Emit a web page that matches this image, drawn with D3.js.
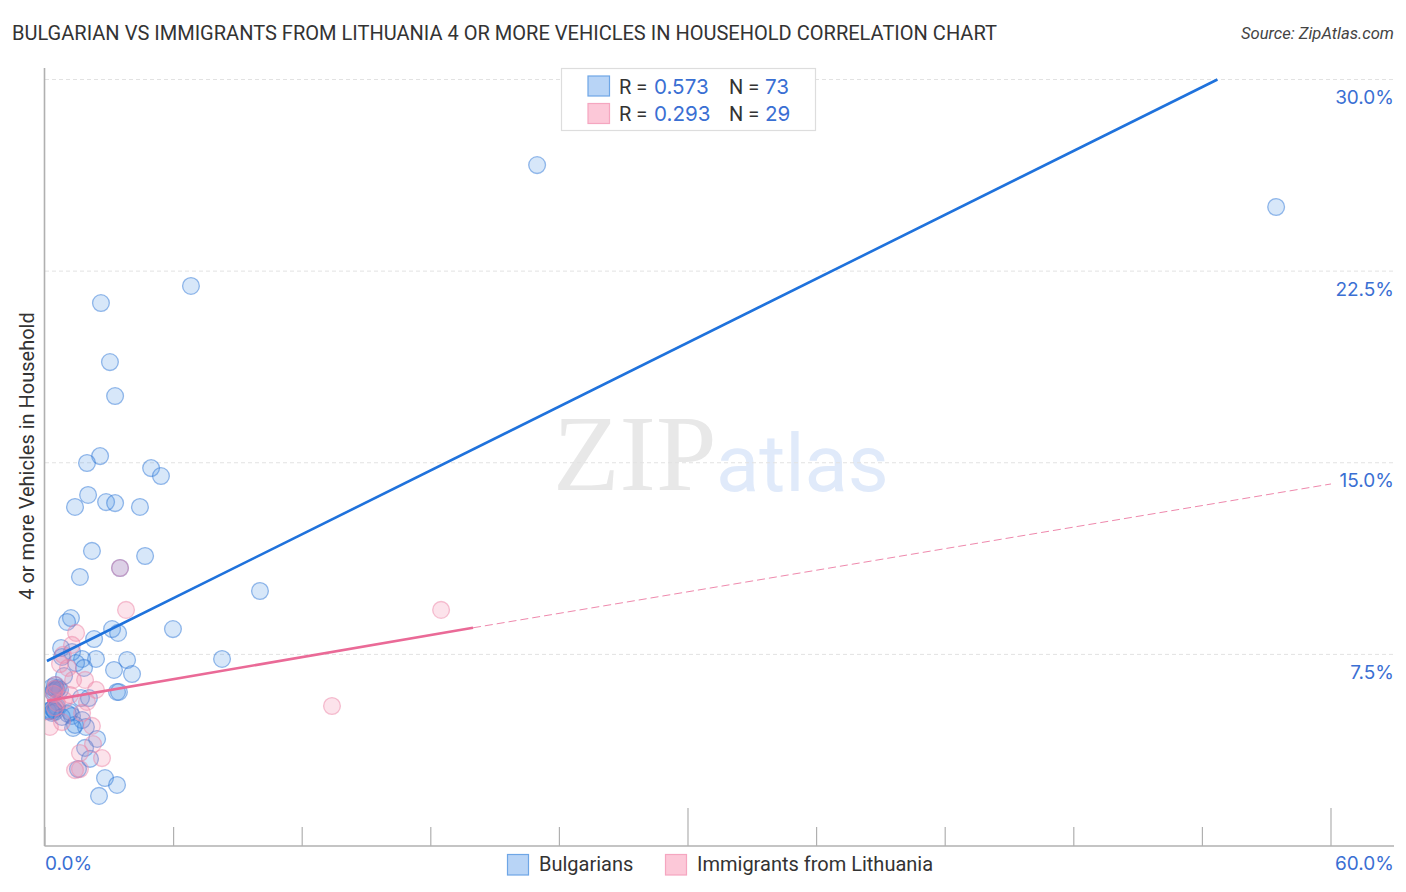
<!DOCTYPE html>
<html><head><meta charset="utf-8">
<script src="https://cdn.jsdelivr.net/npm/d3@7"></script>
<style>html,body{margin:0;padding:0;background:#fff}svg{display:block}text{font-family:Roboto,sans-serif}text.num{font-family:Inter,Roboto,sans-serif}</style>
</head><body><svg id="c" width="1406" height="892"></svg>
<script>
const titleText="BULGARIAN VS IMMIGRANTS FROM LITHUANIA 4 OR MORE VEHICLES IN HOUSEHOLD CORRELATION CHART";
const sourceText="Source: ZipAtlas.com";
const yAxisTitle="4 or more Vehicles in Household";
const seriesNames=["Bulgarians","Immigrants from Lithuania"];
const rValues=["0.573","0.293"];
const nValues=["73","29"];
const yTicks=[7.5,15,22.5,30];
const xTicks=[0,6,12,18,24,30,36,42,48,54,60];
const xMajorTicks=[30,60];
const xEndLabels=[0,60];
const bulgariansX=[22.96,57.44,6.81,2.61,3.03,3.27,2.57,1.96,4.95,5.41,2.01,1.40,2.85,3.27,4.43,2.19,4.67,1.63,3.50,10.03,1.21,1.03,3.13,3.41,2.29,5.97,.75,8.26,2.38,3.83,1.73,1.26,.79,1.45,1.82,3.22,4.06,3.36,3.45,1.68,2.05,2.43,1.87,2.10,1.54,2.80,3.36,2.52,.89,.47,.33,.61,.70,.42,.54,.37,.47,.56,.37,.14,.33,.51,.42,.28,.47,.79,1.17,1.26,1.07,1.73,1.91,1.31,1.40];
const bulgariansY=[26.65,25.01,21.92,21.25,18.94,17.61,15.26,14.99,14.79,14.48,13.74,13.27,13.46,13.42,13.27,11.55,11.35,10.53,10.88,9.98,8.92,8.77,8.49,8.34,8.10,8.49,7.75,7.32,7.32,7.28,7.32,7.59,7.40,7.16,6.97,6.89,6.73,6.03,6.03,5.79,5.79,4.19,3.84,3.41,3.01,2.66,2.39,1.96,6.65,6.30,6.22,6.18,6.11,6.07,6.12,6.02,6.15,5.44,5.38,5.28,5.21,5.40,5.32,5.30,5.25,5.05,5.24,5.09,5.17,4.93,4.66,4.62,4.74];
const lithuaniaX=[3.50,3.78,18.48,13.39,1.45,1.26,.84,.70,1.07,1.87,1.31,2.38,1.96,2.19,1.73,2.24,1.63,2.66,1.40,1.63,.23,.89,.47,.42,.56,.47,.79,1.17,.51];
const lithuaniaY=[10.88,9.24,9.24,5.48,8.34,7.87,7.48,7.12,6.97,6.50,6.50,6.11,5.64,4.70,5.21,3.99,3.64,3.44,2.97,3.01,4.66,5.71,6.15,5.95,5.60,5.42,4.85,5.91,6.30];
const blueLineX=[0.09,54.7], blueLineY=[7.24,30.0];
const pinkLineX=[0.09,19.97], pinkLineY=[5.68,8.54];
const pinkDashX=[19.97,60], pinkDashY=[8.54,14.17];

const x=d3.scaleLinear().domain([0,60]).range([45,1331]);
const y=d3.scaleLinear().domain([0,30]).range([846,79.5]);
const svg=d3.select("#c");
const BLUE="#1f72dc",PINK="#ea6a97",LBL="#3a6fd3",AX="#b0b0b0";
const defs=svg.append("defs");
defs.append("clipPath").attr("id","pc").append("rect").attr("x",45).attr("y",60).attr("width",1350).attr("height",786);

// watermark
svg.append("text").attr("x",553).attr("y",490).attr("font-size",109).attr("fill","#e8e8e8").style("font-family","'Liberation Serif',serif").attr("font-weight","400").text("ZIP");
svg.append("text").attr("x",716).attr("y",491).attr("font-size",79.5).attr("fill","#e0eafa").text("atlas");

// grid
svg.append("g").selectAll("line").data(yTicks).join("line")
 .attr("x1",45).attr("x2",1394).attr("y1",d=>y(d)).attr("y2",d=>y(d))
 .attr("stroke","#e2e2e2").attr("stroke-width",1).attr("stroke-dasharray","4,3");

// axes
const gx=svg.append("g").attr("transform","translate(0,846)")
 .call(d3.axisBottom(x).tickValues(xTicks).tickSize(0).tickFormat("").offset(0));
gx.select(".domain").remove();
gx.selectAll(".tick line").attr("y2",d=>xMajorTicks.includes(d)?-38:-19).attr("stroke",AX).attr("stroke-width",1.2);
svg.append("line").attr("x1",44.5).attr("x2",1394).attr("y1",846).attr("y2",846).attr("stroke",AX).attr("stroke-width",1.3);
svg.append("line").attr("x1",44.5).attr("x2",44.5).attr("y1",68).attr("y2",846).attr("stroke",AX).attr("stroke-width",1.6);

// points
const pts=svg.append("g").attr("clip-path","url(#pc)");
function dots(xs,ys,fill,stroke){
 pts.append("g").selectAll("circle").data(xs.map((v,i)=>[v,ys[i]])).join("circle")
  .attr("cx",d=>x(d[0])).attr("cy",d=>y(d[1])).attr("r",8.4)
  .attr("fill",fill).attr("fill-opacity",.22).attr("stroke",stroke).attr("stroke-opacity",.5).attr("stroke-width",1.3);
}
dots(bulgariansX,bulgariansY,"#4a90e2","#2f78d8");
dots(lithuaniaX,lithuaniaY,"#f27ea2","#ee86a8");

// trend lines
const ln=d3.line().x(d=>x(d[0])).y(d=>y(d[1]));
const zip=(a,b)=>a.map((v,i)=>[v,b[i]]);
svg.append("path").attr("d",ln(zip(pinkDashX,pinkDashY))).attr("fill","none").attr("stroke",PINK).attr("stroke-width",1).attr("stroke-opacity",.8).attr("stroke-dasharray","8,4");
svg.append("path").attr("d",ln(zip(blueLineX,blueLineY))).attr("fill","none").attr("stroke",BLUE).attr("stroke-width",2.6);
svg.append("path").attr("d",ln(zip(pinkLineX,pinkLineY))).attr("fill","none").attr("stroke",PINK).attr("stroke-width",2.6);

// tick labels
svg.append("g").selectAll("text").data(yTicks).join("text").attr("class","num")
 .attr("x",1394).attr("y",d=>y(d)+24.5).attr("text-anchor","end").attr("font-size",19).attr("fill",LBL).text(d=>d.toFixed(1)+"%");
svg.append("g").selectAll("text").data(xEndLabels).join("text").attr("class","num")
 .attr("x",d=>d===0?45:1394).attr("y",870).attr("text-anchor",d=>d===0?"start":"end").attr("font-size",19).attr("fill",LBL).text(d=>d.toFixed(1)+"%");

// titles
svg.append("text").attr("x",12).attr("y",40).attr("font-size",20.05).attr("fill","#333").text(titleText);
svg.append("text").attr("x",1394).attr("y",39).attr("text-anchor","end").attr("font-size",16.6).attr("font-style","italic").attr("fill","#444").text(sourceText);
svg.append("text").attr("transform","translate(34,456) rotate(-90)").attr("text-anchor","middle").attr("font-size",20).attr("fill","#333").text(yAxisTitle);

// top legend
const swF=["#b8d4f6","#fcc8d8"],swS=["#6ea6e6","#f5a6c0"];
svg.append("rect").attr("x",561.5).attr("y",68.5).attr("width",254).attr("height",62).attr("fill","#fff").attr("stroke","#dddddd").attr("stroke-width",1.2);
[0,1].forEach(i=>{
 const yy=[86,113.5][i];
 svg.append("rect").attr("x",588).attr("y",yy-10).attr("width",21.5).attr("height",20).attr("fill",swF[i]).attr("stroke",swS[i]).attr("stroke-width",1.2);
 const t=(tx,s,c,cl,fs)=>svg.append("text").attr("class",cl).attr("x",tx).attr("y",yy+7.5).attr("font-size",fs).attr("fill",c).text(s);
 t(619,"R = ","#333","",20); t(654,rValues[i],LBL,"num",20.6); t(729,"N = ","#333","",20); t(765,nValues[i],LBL,"num",20.6);
});

// bottom legend
[[507,539],[665,697]].forEach((p,i)=>{
 svg.append("rect").attr("x",p[0]+.5).attr("y",854.5).attr("width",21).attr("height",20.5).attr("fill",swF[i]).attr("stroke",swS[i]).attr("stroke-width",1.2);
 svg.append("text").attr("x",p[1]).attr("y",871).attr("font-size",20).attr("fill","#333").text(seriesNames[i]);
});
</script></body></html>
